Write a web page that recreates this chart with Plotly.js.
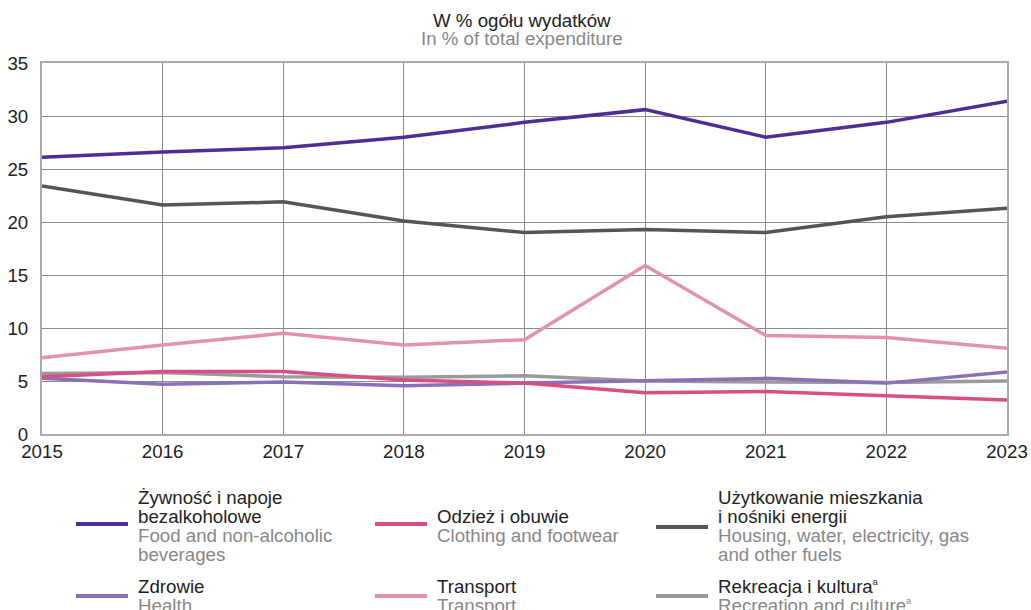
<!DOCTYPE html>
<html>
<head>
<meta charset="utf-8">
<script src="https://cdn.plot.ly/plotly-3.0.1.min.js"></script>
<style>html,body{margin:0;padding:0;background:#fff;}#chart{width:1031px;height:610px;}</style>
</head>
<body>
<div id="chart"></div>
<script>
const years = [2015, 2016, 2017, 2018, 2019, 2020, 2021, 2022, 2023];
const food = [26.1, 26.6, 27.0, 28.0, 29.4, 30.6, 28.0, 29.4, 31.4];
const housing = [23.4, 21.6, 21.9, 20.1, 19.0, 19.3, 19.0, 20.5, 21.3];
const transport = [7.2, 8.4, 9.5, 8.4, 8.9, 15.9, 9.3, 9.1, 8.1];
const clothing = [5.4, 5.9, 5.9, 5.1, 4.8, 3.9, 4.0, 3.6, 3.2];
const recreation = [5.7, 5.8, 5.4, 5.35, 5.5, 5.0, 4.9, 4.85, 5.0];
const health = [5.25, 4.7, 4.9, 4.55, 4.8, 5.0, 5.25, 4.8, 5.85];
const yTicks = [0, 5, 10, 15, 20, 25, 30, 35];

const seriesNames = ["Żywność i napoje bezalkoholowe", "Odzież i obuwie", "Użytkowanie mieszkania i nośniki energii", "Zdrowie", "Transport", "Rekreacja i kultura"];
const colors = ["#4f2d94", "#d94f83", "#555555", "#8b70b9", "#e392ad", "#9a9a9a"];
const SUP = '<sup><span style="font-size:9px">a</span></sup>';
const legendPL = [["Żywność i napoje", "bezalkoholowe"], ["Odzież i obuwie"], ["Użytkowanie mieszkania", "i nośniki energii"], ["Zdrowie"], ["Transport"], ["Rekreacja i kultura" + SUP]];
const legendEN = [["Food and non-alcoholic", "beverages"], ["Clothing and footwear"], ["Housing, water, electricity, gas", "and other fuels"], ["Health"], ["Transport"], ["Recreation and culture" + SUP]];
const titlePL = "W % ogółu wydatków";
const titleEN = "In % of total expenditure";

const values = [food, clothing, housing, health, transport, recreation];
// draw order: back to front
const drawOrder = [4, 5, 3, 1, 2, 0];

const W = 1031, H = 610;
const L = 42, R = 1007, T = 63, B = 434;
const px = x => (x - L) / (R - L);
const py = y => (B - y) / (B - T);

const traces = drawOrder.map(i => ({
  x: years, y: values[i], type: 'scatter', mode: 'lines', name: seriesNames[i],
  line: {color: colors[i], width: 3.5}, hoverinfo: 'x+y+name'
}));

const FONT = 'Liberation Sans, Arial, sans-serif';
const FS = 18.7;
const annotations = [];
const shapes = [];
annotations.push({xref:'paper', yref:'paper', x: px(522), y: py(20), text: titlePL, showarrow:false, xanchor:'center', yanchor:'middle', font:{family:FONT, size:FS, color:'#222'}});
annotations.push({xref:'paper', yref:'paper', x: px(522), y: py(39), text: titleEN, showarrow:false, xanchor:'center', yanchor:'middle', font:{family:FONT, size:FS, color:'#888'}});

// legend layout
const colX = [76, 375, 656];
const rowSym = [[524, 524, 527], [596, 596, 596]];
const rowTop = [[497, 516, 497], [586, 586, 586]];
const lineGap = 19;
for (let i = 0; i < 6; i++) {
  const c = i % 3, r = Math.floor(i / 3);
  const x0 = colX[c];
  shapes.push({type:'line', xref:'paper', yref:'paper', x0: px(x0), x1: px(x0 + 52), y0: py(rowSym[r][c]), y1: py(rowSym[r][c]), line:{color: colors[i], width: 4}});
  let yy = rowTop[r][c];
  legendPL[i].forEach(t => {
    annotations.push({xref:'paper', yref:'paper', x: px(x0 + 60), y: py(yy), text: t, showarrow:false, xanchor:'left', yanchor:'middle', font:{family:FONT, size:FS, color:'#222'}});
    yy += lineGap;
  });
  legendEN[i].forEach(t => {
    annotations.push({xref:'paper', yref:'paper', x: px(x0 + 60), y: py(yy), text: t, showarrow:false, xanchor:'left', yanchor:'middle', font:{family:FONT, size:FS, color:'#888'}});
    yy += lineGap;
  });
}

const layout = {
  width: W, height: H,
  margin: {l: L, r: W - R, t: T, b: H - B, pad: 0},
  paper_bgcolor: '#fff', plot_bgcolor: '#fff',
  showlegend: false,
  font: {family: FONT, size: FS, color: '#222'},
  xaxis: {
    range: [2015, 2023], tickvals: years, ticktext: years.map(String),
    showgrid: true, gridcolor: '#8a8a8a', gridwidth: 1,
    showline: true, linecolor: '#aaaaaa', linewidth: 2, mirror: true,
    zeroline: false, ticks: '', ticklen: 0,
    tickfont: {family: FONT, size: FS, color: '#222'}
  },
  yaxis: {
    range: [0, 35], tickvals: yTicks,
    showgrid: true, gridcolor: '#8a8a8a', gridwidth: 1,
    showline: true, linecolor: '#aaaaaa', linewidth: 2, mirror: true,
    zeroline: false, ticks: '', ticklen: 0, ticklabelstandoff: 8,
    tickfont: {family: FONT, size: FS, color: '#222'}
  },
  annotations: annotations,
  shapes: shapes
};

Plotly.newPlot('chart', traces, layout, {displayModeBar: false, staticPlot: true});
</script>
</body>
</html>
